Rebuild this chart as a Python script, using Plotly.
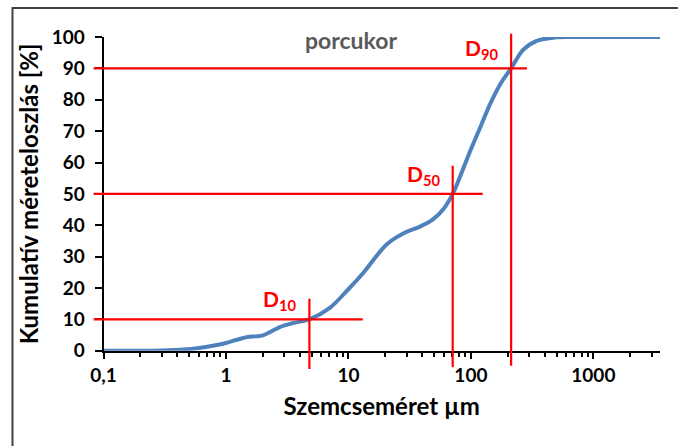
import numpy as np
import plotly.graph_objects as go

# Cumulative particle size distribution of powdered sugar
size_um = [0.1, 0.2, 0.3, 0.45, 0.6, 0.8, 1.0, 1.25, 1.5, 1.75, 2.0, 2.3, 2.7, 3.5,
           4.8, 7.0, 9.6, 13.2, 20.5, 28, 38, 49, 60, 71, 85, 100, 120, 145, 175, 213,
           268, 345, 500, 700, 1000, 3500]
cum_pct = [0, 0, 0.1, 0.4, 0.9, 1.7, 2.5, 3.6, 4.4, 4.6, 4.9, 6.0, 7.4, 8.8,
           10, 13.6, 18.9, 24.8, 33.9, 37.4, 39.5, 41.9, 45.3, 50, 57.3, 64.2, 71.5, 79, 85.2, 90,
           96.0, 98.8, 99.9, 100, 100, 100]

# Characteristic diameters and their guide lines
d_names = ["D<sub>10</sub>", "D<sub>50</sub>", "D<sub>90</sub>"]
d_levels = [10, 50, 90]
d_sizes = [4.8, 71, 213]
h_start = 0.083
h_ends = [13.1, 125, 287]
v_tops = [16.6, 59, 101]
v_bottoms = [-5.8, -5.2, -4.8]

x_tick_vals = [0.1, 1, 10, 100, 1000]
x_tick_text = ["0,1", "1", "10", "100", "1000"]
y_tick_vals = list(range(0, 101, 10))

X_MIN, X_MAX = 0.1, 3500
Y_MIN, Y_MAX = 0, 100

W, H = 678, 446
FONT = "Lato"
RED = "#FF0000"
BLUE = "#4F81BD"

# main plot area in paper fractions
xdom = [103.5 / W, 660 / W]
ydom = [1 - 350.8 / H, 1 - 37 / H]

# a wider, invisible overlay axis pair with the same scale, so guide lines can
# run a little past the main axes
xr = [np.log10(X_MIN), np.log10(X_MAX)]
yr = [Y_MIN, Y_MAX]
xr2 = [np.log10(0.075), xr[1]]
yr2 = [-8, 104]
sx = (xdom[1] - xdom[0]) / (xr[1] - xr[0])
sy = (ydom[1] - ydom[0]) / (yr[1] - yr[0])
xdom2 = [xdom[0] - (xr[0] - xr2[0]) * sx, xdom[1] + (xr2[1] - xr[1]) * sx]
ydom2 = [ydom[0] - (yr[0] - yr2[0]) * sy, ydom[1] + (yr2[1] - yr[1]) * sy]

fig = go.Figure()

fig.add_trace(go.Scatter(
    x=size_um, y=cum_pct, mode="lines",
    line=dict(color=BLUE, width=4, shape="spline", smoothing=1.0),
    hoverinfo="x+y", showlegend=False,
))

gx, gy = [], []
for d, lvl, he, vt, vb in zip(d_sizes, d_levels, h_ends, v_tops, v_bottoms):
    gx += [h_start, he, None, d, d, None]
    gy += [lvl, lvl, None, vb, vt, None]

fig.add_trace(go.Scatter(
    x=gx, y=gy, mode="lines", xaxis="x2", yaxis="y2",
    line=dict(color=RED, width=2.2), hoverinfo="skip", showlegend=False,
))

for name, d, lvl in zip(d_names, d_sizes, d_levels):
    fig.add_annotation(
        x=np.log10(d), y=lvl, xref="x", yref="y", text=name, showarrow=False,
        xanchor="right", yanchor="bottom", xshift=-10, yshift=3,
        font=dict(family=FONT, size=21, color=RED, weight="bold"),
    )

minor_vals = [m * 10 ** k for k in range(-1, 4) for m in range(2, 10) if m * 10 ** k <= X_MAX]

fig.update_layout(
    width=W, height=H,
    margin=dict(l=0, r=0, t=0, b=0),
    paper_bgcolor="white", plot_bgcolor="rgba(0,0,0,0)",
    title=dict(text="porcukor", x=351 / W, y=1 - 41 / H, xanchor="center", yanchor="middle",
               font=dict(family=FONT, size=23, color="#595959", weight="bold")),
    xaxis=dict(
        type="log", range=xr, domain=xdom, anchor="y",
        showline=True, linecolor="black", linewidth=2, showgrid=False, zeroline=False,
        tickmode="array", tickvals=x_tick_vals, ticktext=x_tick_text,
        ticks="outside", ticklen=6, tickwidth=2, tickcolor="black",
        minor=dict(tickmode="array", tickvals=minor_vals, ticks="outside",
                   ticklen=4, tickwidth=2, tickcolor="black", showgrid=False),
        tickfont=dict(family=FONT, size=19, color="black", weight="bold"),
        title=dict(text="Szemcseméret µm", standoff=14,
                   font=dict(family=FONT, size=24, color="black", weight="bold")),
        automargin=False,
    ),
    yaxis=dict(
        range=yr, domain=ydom, anchor="x",
        showline=True, linecolor="black", linewidth=2, showgrid=False, zeroline=False,
        tickmode="array", tickvals=y_tick_vals,
        ticks="outside", ticklen=7, tickwidth=2, tickcolor="black",
        ticklabelstandoff=6,
        tickfont=dict(family=FONT, size=19, color="black", weight="bold"),
        title=dict(text="Kumulatív méreteloszlás [%]", standoff=6,
                   font=dict(family=FONT, size=24, color="black", weight="bold")),
        automargin=False,
    ),
    xaxis2=dict(type="log", range=xr2, domain=xdom2, anchor="y2", visible=False, fixedrange=True),
    yaxis2=dict(range=yr2, domain=ydom2, anchor="x2", visible=False, fixedrange=True),
    shapes=[dict(type="rect", xref="paper", yref="paper",
                 x0=12.5 / W, x1=1.1, y0=-0.1, y1=1 - 8 / H,
                 line=dict(color="#404040", width=2), fillcolor="rgba(0,0,0,0)", layer="below")],
)

fig.write_html("out.html")
